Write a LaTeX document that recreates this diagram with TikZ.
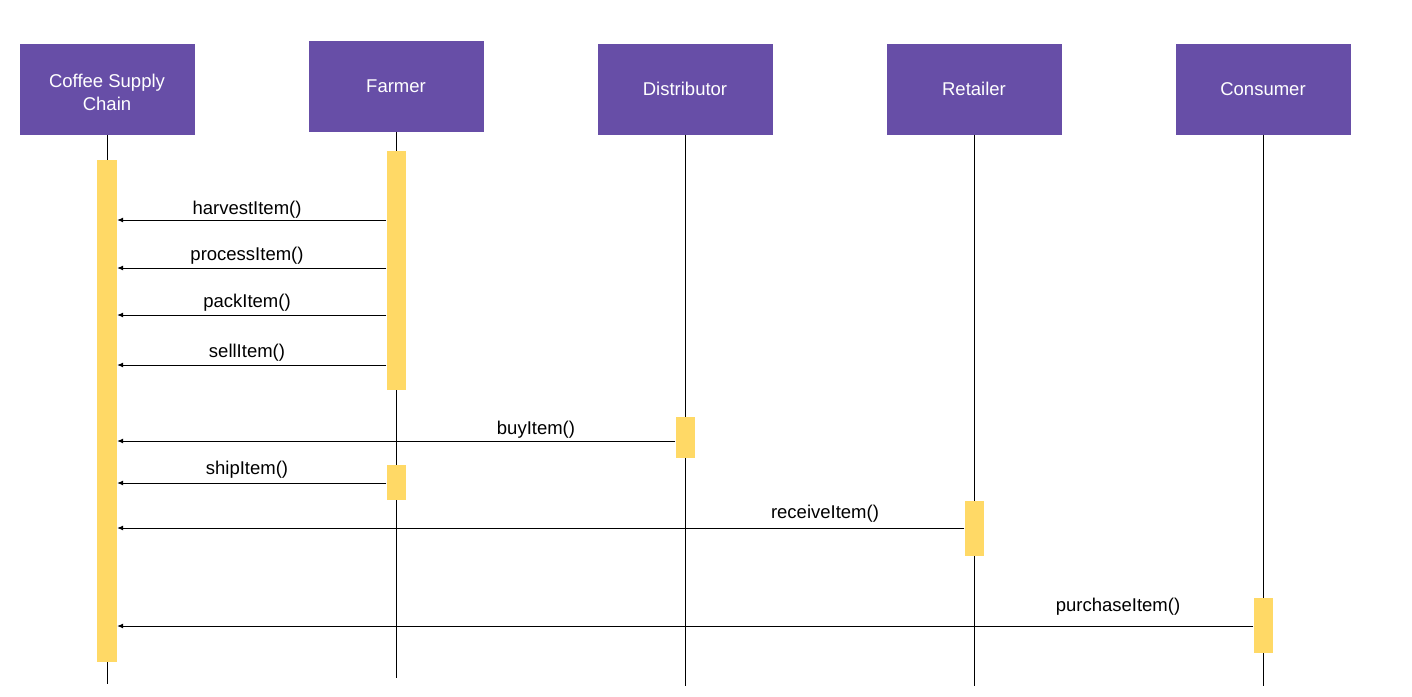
\documentclass[tikz,border=0pt]{standalone}
\usepackage{fontspec}
\setmainfont{Liberation Sans}
\usepackage{xcolor}
\usetikzlibrary{arrows.meta}
\definecolor{lanepurple}{HTML}{674EA7}
\definecolor{baryellow}{HTML}{FFD966}

\begin{document}
\begin{tikzpicture}[x=1pt,y=-1pt,
	lane/.style={fill=lanepurple,minimum width=175pt,minimum height=91pt,text=white,align=center,font=\fontsize{18.5}{23}\selectfont},
	bar/.style={fill=baryellow,minimum width=19pt,inner sep=0pt},
	msg/.style={line width=0.9pt,-{Latex[length=6pt,width=5pt]}},
	lbl/.style={inner sep=0pt,font=\fontsize{18.5}{22}\selectfont}]
			\useasboundingbox (0,0) rectangle (1412,696);
			% Hộp các đối tượng
			\foreach \nm/\x/\y/\txt in {csc/107/89/{\rule{0pt}{20pt}Coffee Supply\\Chain},farm/396/86/Farmer,dist/685/89/Distributor,ret/974/89/Retailer,con/1263/89/Consumer}
			\node[lane] (\nm) at (\x,\y) {\txt};
			% Đường đời
			\foreach \nm/\yb in {csc/684,farm/678,dist/686,ret/686,con/686}
			\draw[line width=0.9pt] (\nm.south) -- (\nm.south |- 0,\yb);
			% Thanh kích hoạt
			\node[bar,minimum width=20pt,minimum height=502pt] (cscbar) at (107,411) {};
			\node[bar,minimum height=239pt] (farmbar) at (396,270.5) {};
			\node[bar,minimum height=35pt] (farmbarb) at (396,482.5) {};
			\node[bar,minimum height=41pt] (distbar) at (685,437.5) {};
			\node[bar,minimum height=55pt] (retbar) at (974,528.5) {};
			\node[bar,minimum height=55pt] (conbar) at (1263,625.5) {};
			% Thông điệp
			\foreach \src/\y/\lx/\ly/\txt in {farmbar/220/247/210/harvestItem(),farmbar/268/247/256/processItem(),farmbar/315/247/303/packItem(),farmbar/365/247/353/sellItem(),distbar/441/536/430/buyItem(),farmbarb/483/247/470/shipItem(),retbar/528/825/514/receiveItem(),conbar/626/1118/607/purchaseItem()}
			{
				\coordinate (m) at (0,\y);
				\draw[msg] (\src.west |- m) -- (cscbar.east |- m);
				\node[lbl] at (\lx,\ly) {\txt};
			}
		\end{tikzpicture}
\end{document}
